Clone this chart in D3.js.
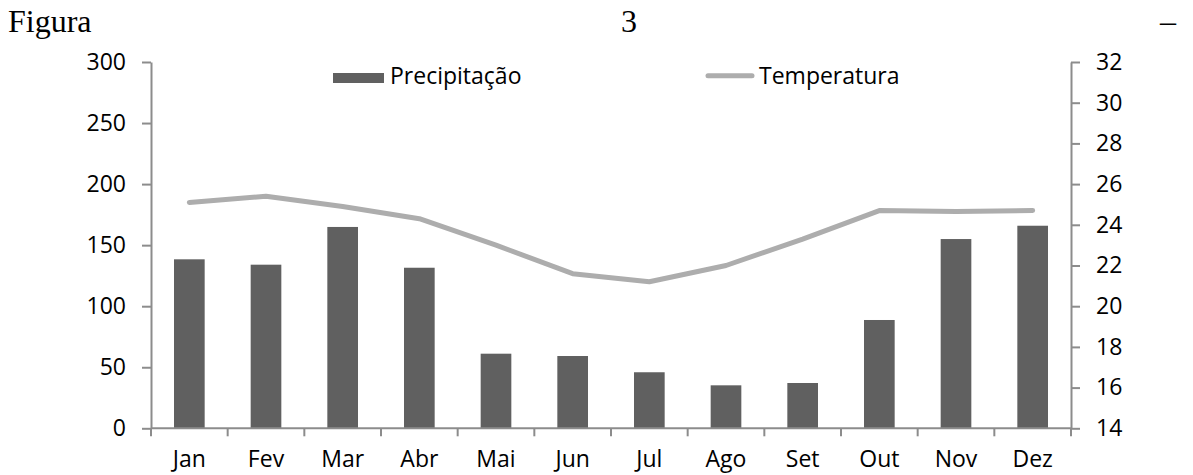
<!DOCTYPE html>
<html>
<head>
<meta charset="utf-8">
<script src="https://cdn.jsdelivr.net/npm/d3@7"></script>
<style>
  html, body { margin: 0; padding: 0; background: #fff; }
  svg { display: block; }
  .tick text { font-family: "Open Sans", sans-serif; font-size: 23px; fill: #000; }
</style>
</head>
<body>
<svg id="chart" width="1193" height="475"></svg>
<script>
// Monthly climate normals: rainfall (mm) and mean temperature (°C)
const months = ["Jan", "Fev", "Mar", "Abr", "Mai", "Jun", "Jul", "Ago", "Set", "Out", "Nov", "Dez"];
const precipitacao = [138.4, 134.0, 164.9, 131.5, 61.1, 59.2, 45.9, 35.2, 37.1, 88.7, 155.0, 165.9];
const temperatura = [25.1, 25.4, 24.9, 24.3, 23.0, 21.6, 21.2, 22.0, 23.3, 24.7, 24.65, 24.7];
const precipTicks = [0, 50, 100, 150, 200, 250, 300];
const tempTicks = [14, 16, 18, 20, 22, 24, 26, 28, 30, 32];
const titleParts = ["Figura", "3", "–"];

const svg = d3.select("#chart");
const plotLeft = 151, plotRight = 1071, plotTop = 62, plotBottom = 428.3;
const axisColor = "#8c8c8c";
const barColor = "#606060";
const lineColor = "#adadad";

const x = d3.scaleBand().domain(months).range([plotLeft, plotRight]).paddingInner(0.6).paddingOuter(0.3);
const yL = d3.scaleLinear().domain([0, 300]).range([plotBottom, plotTop]);
const yR = d3.scaleLinear().domain([14, 32]).range([plotBottom, plotTop]);

// Justified caption line above the chart
const titleX = [8, 621, 1160];
svg.append("g").selectAll("text").data(titleParts).join("text")
  .attr("x", (d, i) => titleX[i]).attr("y", 32)
  .attr("font-family", "'Liberation Serif', 'Times New Roman', serif")
  .attr("font-size", 32).attr("fill", "#000")
  .text(d => d);

// Bars
svg.append("g").selectAll("rect").data(precipitacao).join("rect")
  .attr("x", (d, i) => x(months[i]))
  .attr("y", d => yL(d))
  .attr("width", x.bandwidth())
  .attr("height", d => yL(0) - yL(d))
  .attr("fill", barColor);

// Temperature line
const line = d3.line()
  .x((d, i) => x(months[i]) + x.bandwidth() / 2)
  .y(d => yR(d));
svg.append("path").datum(temperatura)
  .attr("d", line)
  .attr("fill", "none").attr("stroke", lineColor)
  .attr("stroke-width", 5).attr("stroke-linecap", "round").attr("stroke-linejoin", "round");

// Left axis
const gL = svg.append("g").attr("transform", `translate(${plotLeft},0)`)
  .call(d3.axisLeft(yL).tickValues(precipTicks).tickSize(9).tickSizeOuter(0).tickPadding(16));
// Right axis
const gR = svg.append("g").attr("transform", `translate(${plotRight},0)`)
  .call(d3.axisRight(yR).tickValues(tempTicks).tickSize(9).tickSizeOuter(0).tickPadding(16));
// Bottom axis labels
const gB = svg.append("g").attr("transform", `translate(0,${plotBottom})`)
  .call(d3.axisBottom(x).tickSize(0).tickPadding(22));

[gL, gR, gB].forEach(g => {
  g.selectAll(".domain").attr("stroke", axisColor).attr("stroke-width", 2);
  g.selectAll(".tick line").attr("stroke", axisColor).attr("stroke-width", 2);
});
gB.select(".domain").remove();

// Category boundary ticks and baseline
const step = x.step();
const boundaries = d3.range(months.length + 1).map(i => plotLeft + i * step);
svg.append("line").attr("x1", plotLeft).attr("x2", plotRight).attr("y1", plotBottom).attr("y2", plotBottom)
  .attr("stroke", axisColor).attr("stroke-width", 2);
svg.append("g").selectAll("line").data(boundaries).join("line")
  .attr("x1", d => d).attr("x2", d => d).attr("y1", plotBottom).attr("y2", plotBottom + 8)
  .attr("stroke", axisColor).attr("stroke-width", 2);

// Legend
const lg = svg.append("g").attr("font-family", "'Open Sans', sans-serif").attr("font-size", 23);
lg.append("rect").attr("x", 333).attr("y", 73).attr("width", 51).attr("height", 10).attr("fill", barColor);
lg.append("text").attr("x", 390).attr("y", 84).text("Precipitação");
lg.append("line").attr("x1", 708).attr("x2", 752).attr("y1", 75.7).attr("y2", 75.7)
  .attr("stroke", lineColor).attr("stroke-width", 5).attr("stroke-linecap", "round");
lg.append("text").attr("x", 759).attr("y", 84).text("Temperatura");
</script>
</body>
</html>
